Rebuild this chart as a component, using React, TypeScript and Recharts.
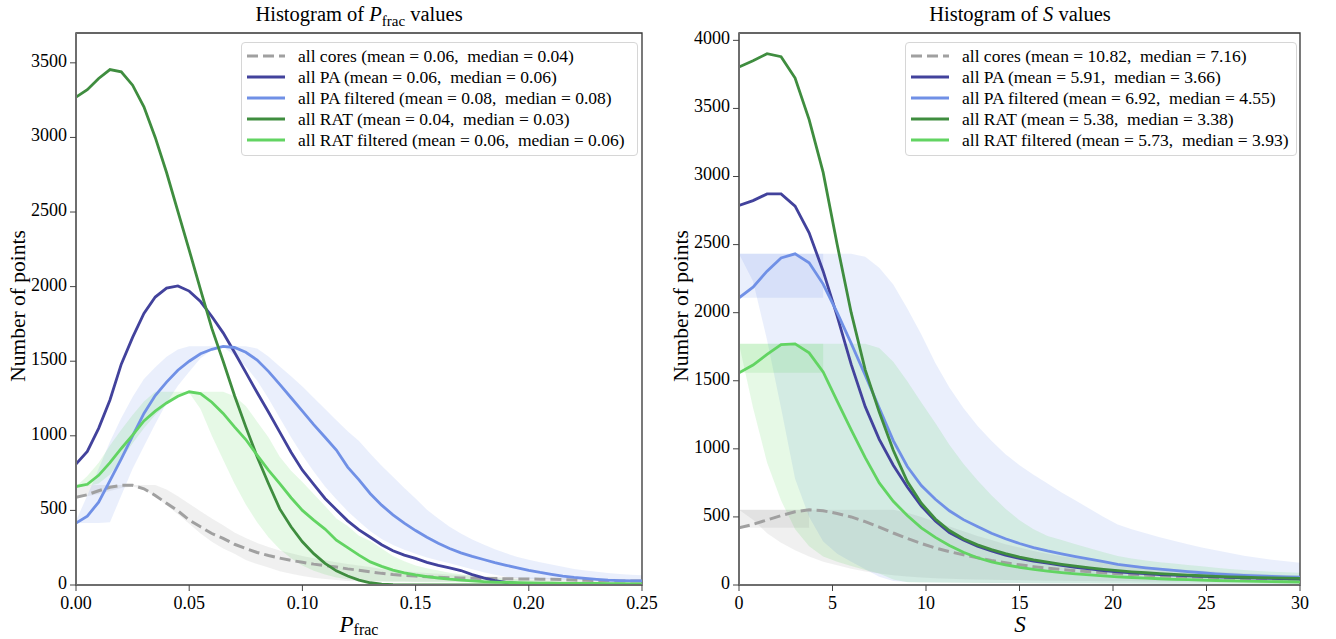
import React from "react";
import { Area, ComposedChart, Line, ReferenceArea, XAxis, YAxis } from "recharts";

const FONT = "'Liberation Serif', 'Times New Roman', serif";

// ---- P_frac panel ----
const pfracX = [
  0, 0.005, 0.01, 0.015, 0.02, 0.025, 0.03, 0.035, 0.04, 0.045, 0.05,
  0.055, 0.06, 0.065, 0.07, 0.075, 0.08, 0.085, 0.09, 0.095, 0.1,
  0.105, 0.11, 0.115, 0.12, 0.125, 0.13, 0.135, 0.14, 0.145, 0.15,
  0.155, 0.16, 0.165, 0.17, 0.175, 0.18, 0.185, 0.19, 0.195, 0.2,
  0.205, 0.21, 0.215, 0.22, 0.225, 0.23, 0.235, 0.24, 0.245, 0.25,
];
const pfracCores = [
  588, 605, 632, 655, 668, 668, 645, 600, 548, 497, 435,
  390, 345, 313, 273, 245, 218, 198, 180, 165, 152,
  140, 130, 120, 108, 99, 88, 78, 70, 64, 60,
  56, 52, 49, 47, 45, 44, 43, 42, 41, 41,
  39, 38, 36, 33, 31, 29, 28, 27, 27, 27,
];
const pfracPA = [
  810, 895, 1050, 1240, 1480, 1660, 1820, 1930, 1990, 2005, 1970,
  1900, 1800, 1690, 1560, 1425, 1290, 1160, 1025, 890, 770,
  675, 580, 505, 430, 370, 320, 270, 230, 200, 178,
  152, 132, 115, 97, 70, 48, 30, 18, 11, 8,
  6, 5, 5, 4, 4, 4, 3, 3, 3, 3,
];
const pfracPAF = [
  415, 462, 555, 700, 845, 1000, 1150, 1270, 1360, 1440, 1500,
  1550, 1580, 1600, 1592, 1560, 1508, 1432, 1345, 1255, 1165,
  1075, 990, 905, 790, 705, 612, 535, 470, 415, 365,
  320, 280, 245, 215, 192, 171, 150, 132, 115, 98,
  84, 72, 60, 51, 44, 38, 33, 30, 28, 27,
];
const pfracRAT = [
  3270, 3320, 3395, 3455, 3440, 3350, 3205, 3000, 2765, 2505, 2245,
  1980, 1720, 1500, 1270, 1060, 860, 680, 510, 390, 290,
  210, 145, 95, 60, 33, 15, 6, 2, 1, 0,
  0, 0, 0, 0, 0, 0, 0, 0, 0, 0,
  0, 0, 0, 0, 0, 0, 0, 0, 0, 0,
];
const pfracRATF = [
  660, 675, 735, 820, 915, 1005, 1100, 1165, 1220, 1265, 1295,
  1283, 1225, 1150, 1060, 975, 870, 770, 680, 585, 500,
  435, 375, 300, 250, 200, 155, 125, 100, 82, 68,
  56, 47, 39, 33, 27, 22, 19, 17, 16, 14,
  13, 12, 11, 11, 10, 10, 9, 9, 8, 8,
];
// spread bands (low / high)
const pfracCoresLo = [
  588, 595, 610, 630, 650, 660, 640, 595, 535, 475, 410,
  345, 290, 245, 210, 168, 140, 117, 92, 75, 60,
  48, 40, 33, 27, 25, 24, 24, 23, 23, 22,
  22, 22, 21, 21, 21, 20, 20, 20, 20, 20,
  20, 20, 19, 19, 19, 19, 19, 18, 18, 18,
];
const pfracCoresHi = [
  660, 668, 671, 671, 671, 671, 671, 671, 640, 595, 545,
  495, 445, 400, 352, 315, 282, 255, 232, 212, 195,
  180, 166, 152, 140, 130, 120, 108, 100, 92, 85,
  80, 75, 71, 67, 63, 60, 57, 55, 52, 50,
  48, 47, 46, 45, 44, 43, 42, 41, 40, 40,
];
const pfracPAFLo = [
  415, 415, 415, 420, 600, 780, 930, 1080, 1220, 1335, 1430,
  1520, 1575, 1595, 1540, 1465, 1370, 1250, 1120, 990, 870,
  760, 660, 575, 495, 425, 360, 308, 268, 236, 210,
  185, 165, 145, 125, 105, 85, 68, 55, 47, 42,
  40, 38, 36, 34, 32, 30, 29, 28, 27, 26,
];
const pfracPAFHi = [
  430, 600, 780, 960, 1120, 1260, 1380, 1460, 1530, 1578, 1600,
  1600, 1600, 1600, 1600, 1600, 1585, 1532, 1465, 1400, 1330,
  1255, 1180, 1105, 1030, 965, 880, 800, 725, 650, 580,
  505, 445, 390, 345, 305, 271, 240, 212, 188, 170,
  153, 138, 122, 108, 97, 88, 80, 74, 69, 66,
];
const pfracRATFLo = [
  660, 662, 680, 740, 840, 950, 1050, 1140, 1210, 1260, 1288,
  1180, 1000, 840, 680, 540, 420, 320, 240, 180, 130,
  95, 70, 50, 38, 30, 26, 24, 22, 21, 20,
  19, 19, 18, 18, 17, 17, 16, 16, 16, 15,
  15, 15, 15, 14, 14, 14, 14, 13, 13, 13,
];
const pfracRATFHi = [
  660, 730, 820, 935, 1040, 1140, 1230, 1296, 1296, 1296, 1296,
  1296, 1296, 1296, 1265, 1200, 1095, 990, 860, 765, 690,
  610, 530, 445, 395, 330, 295, 245, 195, 160, 130,
  112, 97, 82, 72, 62, 53, 47, 42, 38, 34,
  30, 27, 25, 24, 23, 22, 21, 21, 20, 20,
];
const pfracTicks = [0, 0.05, 0.1, 0.15, 0.2, 0.25];
const pfracYTicks = [0, 500, 1000, 1500, 2000, 2500, 3000, 3500];
const pfracLegend = [
  "all cores (mean = 0.06,  median = 0.04)",
  "all PA (mean = 0.06,  median = 0.06)",
  "all PA filtered (mean = 0.08,  median = 0.08)",
  "all RAT (mean = 0.04,  median = 0.03)",
  "all RAT filtered (mean = 0.06,  median = 0.06)",
];

// ---- S panel ----
const sX = [
  0, 0.75, 1.5, 2.25, 3, 3.75, 4.5, 5.25, 6, 6.75, 7.5,
  8.25, 9, 9.75, 10.5, 11.25, 12, 12.75, 13.5, 14.25, 15,
  15.75, 16.5, 17.25, 18, 18.75, 19.5, 20.25, 21, 21.75, 22.5,
  23.25, 24, 24.75, 25.5, 26.25, 27, 27.75, 28.5, 29.25, 30,
];
const sCores = [
  420, 445, 478, 510, 538, 552, 545, 525, 500, 465, 425,
  382, 342, 305, 272, 245, 222, 200, 180, 163, 148,
  135, 124, 114, 105, 97, 90, 83, 77, 72, 67,
  63, 59, 56, 53, 50, 48, 46, 44, 43, 42,
];
const sPA = [
  2787, 2823, 2872, 2872, 2782, 2586, 2305, 1975, 1620, 1310, 1070,
  880, 720, 580, 470, 385, 330, 285, 250, 220, 195,
  175, 160, 145, 130, 118, 106, 97, 89, 83, 77,
  72, 67, 63, 59, 56, 53, 50, 48, 46, 44,
];
const sPAF = [
  2109, 2187, 2305, 2402, 2432, 2366, 2210, 2000, 1775, 1540, 1300,
  1060, 870, 730, 630, 545, 480, 430, 380, 340, 305,
  275, 250, 228, 208, 190, 172, 152, 138, 126, 116,
  107, 98, 90, 82, 76, 71, 67, 63, 60, 57,
];
const sRAT = [
  3805, 3850, 3902, 3880, 3723, 3418, 3030, 2500, 2000, 1580, 1270,
  990, 760, 600, 485, 400, 340, 295, 260, 230, 205,
  185, 168, 152, 138, 126, 115, 105, 97, 90, 84,
  78, 73, 68, 64, 60, 57, 54, 52, 50, 48,
];
const sRATF = [
  1558, 1615, 1693, 1766, 1771, 1705, 1565, 1350, 1140, 935, 750,
  615, 510, 420, 350, 290, 240, 200, 170, 148, 130,
  115, 102, 91, 82, 74, 67, 60, 55, 50, 46,
  42, 39, 36, 33, 31, 29, 27, 25, 24, 22,
];
const sCoresLo = [
  552, 480, 380, 310, 255, 210, 170, 145, 120, 100, 85,
  72, 62, 55, 50, 46, 43, 40, 38, 36, 34,
  33, 32, 31, 30, 29, 28, 27, 27, 26, 26,
  25, 25, 24, 24, 24, 23, 23, 23, 22, 22,
];
const sCoresHi = [
  552, 552, 552, 552, 552, 552, 552, 552, 552, 552, 552,
  552, 530, 500, 465, 430, 395, 360, 330, 300, 275,
  250, 230, 212, 196, 181, 168, 156, 145, 135, 126,
  118, 110, 104, 98, 92, 87, 82, 78, 74, 70,
];
const sPAFLo = [
  2432, 2230, 1800, 1300, 780, 500, 320, 230, 170, 115, 60,
  30, 22, 20, 19, 18, 17, 16, 15, 15, 14,
  14, 13, 13, 12, 12, 12, 11, 11, 11, 10,
  10, 10, 10, 9, 9, 9, 9, 8, 8, 8,
];
const sPAFHi = [
  2432, 2432, 2432, 2432, 2432, 2432, 2432, 2432, 2432, 2410, 2330,
  2207, 2030, 1840, 1630, 1450, 1300, 1170, 1060, 960, 880,
  810, 745, 680, 620, 560, 500, 445, 410, 380, 350,
  325, 300, 275, 255, 235, 215, 200, 185, 175, 164,
];
const sRATFLo = [
  1771, 1301, 900, 620, 410, 285, 210, 170, 140, 110, 85,
  40, 20, 19, 18, 17, 16, 15, 15, 14, 14,
  13, 13, 12, 12, 12, 11, 11, 11, 10, 10,
  10, 10, 9, 9, 9, 9, 8, 8, 8, 8,
];
const sRATFHi = [
  1771, 1771, 1771, 1771, 1771, 1771, 1771, 1771, 1771, 1771, 1740,
  1640, 1497, 1340, 1190, 1030, 890, 770, 660, 560, 475,
  410, 360, 330, 300, 270, 240, 213, 195, 180, 168,
  157, 147, 137, 127, 118, 110, 103, 97, 93, 90,
];
// overlapping part of the bands near S = 0 (rising branch)
const sCoresRiseLo = [420, 420, 420, 420, 420, 420];
const sCoresRiseHi = [552, 552, 552, 552, 552, 552];
const sPAFRiseLo = [2109, 2109, 2109, 2109, 2109, 2109, 2109];
const sPAFRiseHi = [2432, 2432, 2432, 2432, 2432, 2432, 2432];
const sRATFRiseLo = [1558, 1558, 1558, 1558, 1558, 1558, 1558];
const sRATFRiseHi = [1771, 1771, 1771, 1771, 1771, 1771, 1771];
const sTicks = [0, 5, 10, 15, 20, 25, 30];
const sYTicks = [0, 500, 1000, 1500, 2000, 2500, 3000, 3500, 4000];
const sLegend = [
  "all cores (mean = 10.82,  median = 7.16)",
  "all PA (mean = 5.91,  median = 3.66)",
  "all PA filtered (mean = 6.92,  median = 4.55)",
  "all RAT (mean = 5.38,  median = 3.38)",
  "all RAT filtered (mean = 5.73,  median = 3.93)",
];

const C_CORES = "#a0a0a0";
const C_PA = "#42429c";
const C_PAF = "#7090e6";
const C_RAT = "#3f8d3f";
const C_RATF = "#62d462";
const legendStyles = [
  { color: C_CORES, dash: "11 5" },
  { color: C_PA },
  { color: C_PAF },
  { color: C_RAT },
  { color: C_RATF },
];

const band = (lo: number[], hi: number[], i: number) =>
  i < lo.length ? [lo[i], hi[i]] : null;

const pfracRows = pfracX.map((x, i) => ({
  x,
  cores: pfracCores[i],
  pa: pfracPA[i],
  paf: pfracPAF[i],
  rat: pfracRAT[i],
  ratf: pfracRATF[i],
  coresBand: band(pfracCoresLo, pfracCoresHi, i),
  pafBand: band(pfracPAFLo, pfracPAFHi, i),
  ratfBand: band(pfracRATFLo, pfracRATFHi, i),
}));

const sRows = sX.map((x, i) => ({
  x,
  cores: sCores[i],
  pa: sPA[i],
  paf: sPAF[i],
  rat: sRAT[i],
  ratf: sRATF[i],
  coresBand: band(sCoresLo, sCoresHi, i),
  pafBand: band(sPAFLo, sPAFHi, i),
  ratfBand: band(sRATFLo, sRATFHi, i),
  coresRise: band(sCoresRiseLo, sCoresRiseHi, i),
  pafRise: band(sPAFRiseLo, sPAFRiseHi, i),
  ratfRise: band(sRATFRiseLo, sRATFRiseHi, i),
}));

function LegendBox({ left, width, labels }: { left: number; width: number; labels: string[] }) {
  return (
    <div
      style={{
        position: "absolute",
        left,
        top: 42,
        width,
        height: 114,
        boxSizing: "border-box",
        border: "1px solid #d6d6d6",
        borderRadius: 4,
        background: "rgba(255,255,255,0.8)",
        padding: "3px 0 0 5px",
        fontFamily: FONT,
        fontSize: 17.5,
        color: "#000",
      }}
    >
      {labels.map((t, i) => (
        <div key={t} style={{ display: "flex", alignItems: "center", height: 20.9 }}>
          <svg width={38} height={6} style={{ flex: "none" }}>
            <line
              x1={0}
              y1={3}
              x2={38}
              y2={3}
              stroke={legendStyles[i].color}
              strokeWidth={3}
              strokeDasharray={legendStyles[i].dash}
            />
          </svg>
          <span style={{ marginLeft: 13, whiteSpace: "pre", lineHeight: "20px" }}>{t}</span>
        </div>
      ))}
    </div>
  );
}

type PanelProps = {
  left: number;
  rows: any[];
  xMax: number;
  yMax: number;
  xTicks: number[];
  yTicks: number[];
  xFmt: (v: number) => string;
  margin: { top: number; right: number; bottom: number; left: number };
  rise?: boolean;
  children?: React.ReactNode;
};

function Panel({ left, rows, xMax, yMax, xTicks, yTicks, xFmt, margin, rise, children }: PanelProps) {
  const tick = { fill: "#000", fontSize: 18, fontFamily: FONT };
  return (
    <div style={{ position: "absolute", left, top: 0, width: 668, height: 639 }}>
      <ComposedChart width={668} height={639} data={rows} margin={margin}>
        <XAxis
          dataKey="x"
          type="number"
          domain={[0, xMax]}
          ticks={xTicks}
          tickFormatter={xFmt}
          allowDataOverflow
          height={639 - 585 - margin.bottom}
          tick={tick}
          tickSize={6}
          tickMargin={5}
          axisLine={{ stroke: "#6e6e6e", strokeWidth: 2 }}
          tickLine={{ stroke: "#444", strokeWidth: 1 }}
        />
        <YAxis
          type="number"
          domain={[0, yMax]}
          ticks={yTicks}
          allowDataOverflow
          width={60}
          tick={{ ...tick, dy: -2.5 }}
          tickSize={6}
          tickMargin={3}
          axisLine={{ stroke: "#6e6e6e", strokeWidth: 2 }}
          tickLine={{ stroke: "#444", strokeWidth: 1 }}
        />
        <Area dataKey="coresBand" type="linear" stroke="none" fill="#808080" fillOpacity={0.12} isAnimationActive={false} dot={false} activeDot={false} />
        <Area dataKey="pafBand" type="linear" stroke="none" fill="#4169e1" fillOpacity={0.11} isAnimationActive={false} dot={false} activeDot={false} />
        <Area dataKey="ratfBand" type="linear" stroke="none" fill="#32cd32" fillOpacity={0.12} isAnimationActive={false} dot={false} activeDot={false} />
        {rise && (
          <Area dataKey="coresRise" type="linear" stroke="none" fill="#808080" fillOpacity={0.12} isAnimationActive={false} dot={false} activeDot={false} />
        )}
        {rise && (
          <Area dataKey="pafRise" type="linear" stroke="none" fill="#4169e1" fillOpacity={0.11} isAnimationActive={false} dot={false} activeDot={false} />
        )}
        {rise && (
          <Area dataKey="ratfRise" type="linear" stroke="none" fill="#32cd32" fillOpacity={0.12} isAnimationActive={false} dot={false} activeDot={false} />
        )}
        <Line dataKey="cores" type="linear" stroke={C_CORES} strokeWidth={3} strokeDasharray="11 5" dot={false} activeDot={false} isAnimationActive={false} />
        <Line dataKey="pa" type="linear" stroke={C_PA} strokeWidth={2.8} dot={false} activeDot={false} isAnimationActive={false} />
        <Line dataKey="paf" type="linear" stroke={C_PAF} strokeWidth={2.8} dot={false} activeDot={false} isAnimationActive={false} />
        <Line dataKey="rat" type="linear" stroke={C_RAT} strokeWidth={2.8} dot={false} activeDot={false} isAnimationActive={false} />
        <Line dataKey="ratf" type="linear" stroke={C_RATF} strokeWidth={2.8} dot={false} activeDot={false} isAnimationActive={false} />
        <ReferenceArea x1={0} x2={xMax} y1={0} y2={yMax} fill="none" stroke="#333" strokeWidth={1.3} ifOverflow="visible" />
      </ComposedChart>
      {children}
    </div>
  );
}

function Texts({ cx, title, xlabel }: { cx: number; title: React.ReactNode; xlabel: React.ReactNode }) {
  return (
    <svg
      width={668}
      height={639}
      style={{ position: "absolute", left: 0, top: 0, pointerEvents: "none", fontFamily: FONT }}
    >
      <text x={cx} y={21} textAnchor="middle" fontSize={20.5} fill="#000">
        {title}
      </text>
      <text x={cx} y={632} textAnchor="middle" fontSize={23} fill="#000">
        {xlabel}
      </text>
    </svg>
  );
}

function YLabel({ x }: { x: number }) {
  return (
    <svg width={40} height={639} style={{ position: "absolute", left: 0, top: 0, pointerEvents: "none" }}>
      <text
        x={x}
        y={306}
        transform={`rotate(-90 ${x} 306)`}
        textAnchor="middle"
        fontSize={21.5}
        fontFamily={FONT}
        fill="#000"
      >
        Number of points
      </text>
    </svg>
  );
}

export default function App() {
  return (
    <div style={{ position: "absolute", left: 0, top: 0, width: 1336, height: 639, background: "#fff", overflow: "hidden" }}>
      <Panel
        left={0}
        rows={pfracRows}
        xMax={0.25}
        yMax={3700}
        xTicks={pfracTicks}
        yTicks={pfracYTicks}
        xFmt={(v) => v.toFixed(2)}
        margin={{ top: 33, right: 26, bottom: 0, left: 16 }}
      >
        <Texts
          cx={359}
          title={
            <>
              Histogram of <tspan fontStyle="italic">P</tspan>
              <tspan fontSize={15} dy={5}>frac</tspan>
              <tspan dy={-5}> values</tspan>
            </>
          }
          xlabel={
            <>
              <tspan fontStyle="italic">P</tspan>
              <tspan fontSize={16} dy={3}>frac</tspan>
            </>
          }
        />
        <YLabel x={25} />
        <LegendBox left={241} width={397} labels={pfracLegend} />
      </Panel>
      <Panel
        left={668}
        rows={sRows}
        xMax={30}
        yMax={4054}
        xTicks={sTicks}
        yTicks={sYTicks}
        xFmt={(v) => String(v)}
        margin={{ top: 33, right: 36, bottom: 0, left: 11 }}
        rise
      >
        <Texts
          cx={352}
          title={
            <>
              Histogram of <tspan fontStyle="italic">S</tspan> values
            </>
          }
          xlabel={<tspan fontStyle="italic">S</tspan>}
        />
        <YLabel x={20} />
        <LegendBox left={237} width={392} labels={sLegend} />
      </Panel>
    </div>
  );
}
